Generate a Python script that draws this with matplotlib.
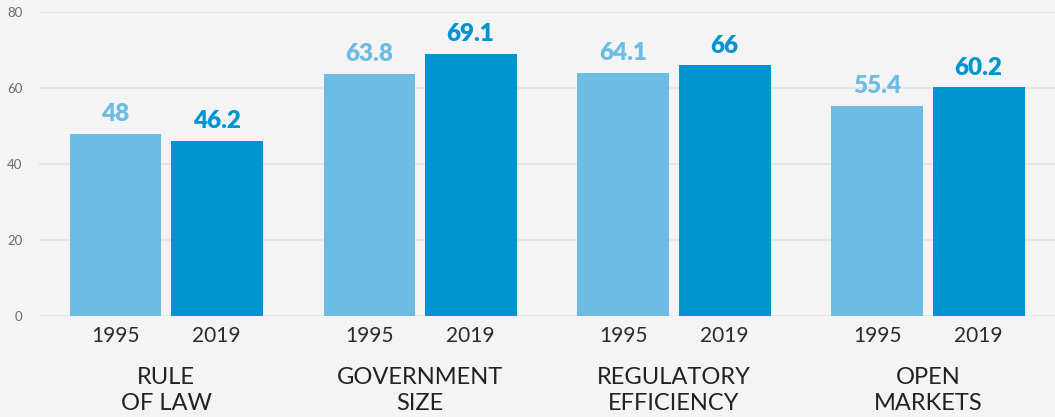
import matplotlib.pyplot as plt
import numpy as np
from matplotlib.transforms import blended_transform_factory

categories = ["RULE\nOF LAW", "GOVERNMENT\nSIZE", "REGULATORY\nEFFICIENCY", "OPEN\nMARKETS"]
years = ["1995", "2019"]
vals1995 = [48, 63.8, 64.1, 55.4]
vals2019 = [46.2, 69.1, 66, 60.2]
labels1995 = ["48", "63.8", "64.1", "55.4"]
labels2019 = ["46.2", "69.1", "66", "60.2"]

light = "#6cbce4"
dark = "#0094d0"
bg = "#f4f4f4"

plt.rcParams['font.family'] = ['Lato', 'DejaVu Sans']

fig = plt.figure(figsize=(10.55, 4.17), dpi=100, facecolor=bg)
ax = fig.add_axes([0.037, 0.242, 0.963, 0.729], facecolor=bg)

x = np.arange(len(categories))
off = 0.199
w = 0.362
b1 = ax.bar(x - off, vals1995, w, color=light, zorder=3)
b2 = ax.bar(x + off, vals2019, w, color=dark, zorder=3)

for rect, lab in zip(b1, labels1995):
    ax.annotate(lab, (rect.get_x() + rect.get_width() / 2, rect.get_height()),
                xytext=(0, 6), textcoords="offset points", ha="center", va="bottom",
                fontsize=17.5, fontweight="heavy", color=light)
for rect, lab in zip(b2, labels2019):
    ax.annotate(lab, (rect.get_x() + rect.get_width() / 2, rect.get_height()),
                xytext=(0, 6), textcoords="offset points", ha="center", va="bottom",
                fontsize=17.5, fontweight="heavy", color=dark)

ax.set_xlim(-0.5, 3.5)
ax.set_ylim(0, 80)
ax.set_yticks([0, 20, 40, 60, 80])
ax.tick_params(axis="y", length=0, pad=12, labelsize=9.5, labelcolor="#6a6a6a")

ticks = np.concatenate([x - off, x + off])
ax.set_xticks(ticks)
ax.set_xticklabels([years[0]] * 4 + [years[1]] * 4)
ax.tick_params(axis="x", length=0, pad=7, labelsize=15, labelcolor="#2a2a2a")

trans = blended_transform_factory(ax.transData, ax.transAxes)
for xi, cat in zip(x, categories):
    ax.text(xi, -0.168, cat, transform=trans, ha="center", va="top",
            fontsize=17, color="#222222", linespacing=1.3)

ax.grid(axis="y", color="#e2e2e2", linewidth=1.2, zorder=0)
for s in ax.spines.values():
    s.set_visible(False)

fig.savefig("out.png", dpi=100, facecolor=bg)
